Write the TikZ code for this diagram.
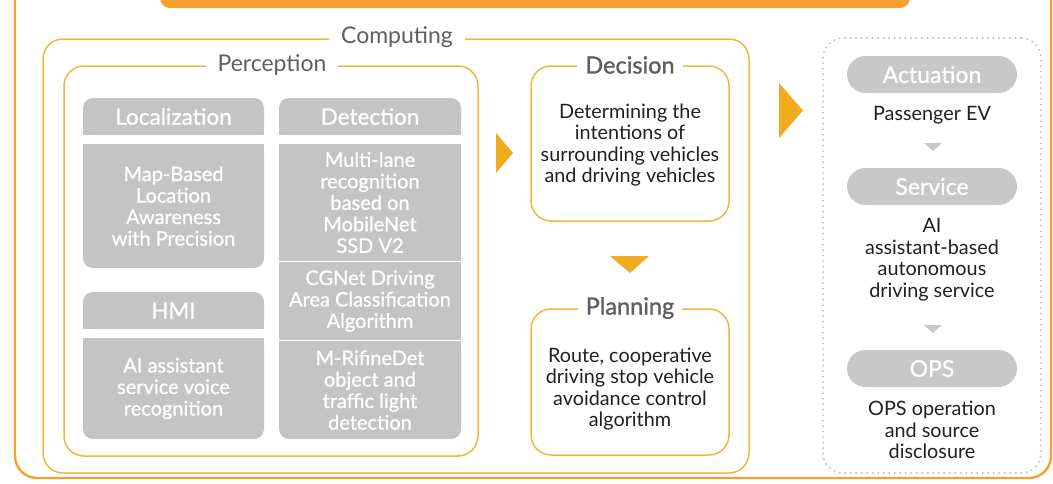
\documentclass[tikz,border=0pt]{standalone}
\usepackage{fontspec}
\setmainfont{Lato}
\newfontfamily\medfont{Lato}[FakeBold=0.7]
\newfontfamily\semifont{Lato}[FakeBold=1.2]
\usetikzlibrary{backgrounds}
\definecolor{gb}{HTML}{C4C4C4}
\definecolor{pillg}{HTML}{C8C8C8}
\definecolor{frameor}{HTML}{F6B53A}
\definecolor{outeror}{HTML}{F5A030}
\definecolor{triangor}{HTML}{F0AC1E}
\definecolor{lbl}{HTML}{5F5F5F}
\definecolor{txt}{HTML}{231F20}
\definecolor{dotg}{HTML}{BDBDBD}
\begin{document}
\begin{tikzpicture}[x=1pt,y=-1pt,
  frame/.style={draw=frameor, line width=1.5pt, rounded corners=20pt, inner sep=0pt},
  flabel/.style={fill=white, text=lbl, inner xsep=12pt, inner ysep=1pt, font=\fontsize{23}{26}\selectfont},
  flabelb/.style={flabel, font=\fontsize{23.5}{26}\semifont, inner xsep=8pt},
  hdr/.style={fill=gb, rounded corners=10pt, text=white, inner sep=0pt, font=\fontsize{22.5}{26}\medfont},
  gbody/.style={fill=gb, text=white, align=center, inner sep=0pt, font=\fontsize{20}{21.5}\medfont},
  btext/.style={text=txt, align=center, inner sep=0pt, font=\fontsize{19.8}{21.5}\selectfont},
  pill/.style={fill=pillg, rounded corners=18.5pt, text=white, inner sep=0pt, minimum width=170pt, minimum height=37pt, font=\fontsize{23}{26}\medfont},
  tri/.style={fill=triangor},
  gtri/.style={fill=pillg}
]
\useasboundingbox (0,0) rectangle (1053,483);
% outer frame and top bar
\node[draw=outeror, line width=2.4pt, rounded corners=22pt, minimum width=1036pt, minimum height=507pt, inner sep=0pt] (outer) at (533,224.5) {};
\node[fill=outeror, rounded corners=10pt, minimum width=750pt, minimum height=38pt, inner sep=0pt] (topbar) at (535,-11) {};

% Computing
\node[frame, minimum width=706pt, minimum height=434pt] (comp) at (396,256) {};
\node[flabel] (compl) at (397,37) {Computing};
% Perception
\node[frame, minimum width=414pt, minimum height=390pt] (perc) at (271,261) {};
\node[flabel] (percl) at (272,65) {Perception};

% Localization
\node[hdr, minimum width=181pt, minimum height=37pt] (loch) at (173.5,116.5) {Localization};
\node[gbody, rounded corners=10pt, minimum width=181pt, minimum height=124pt] (locb) at (173.5,206) {Map-Based\\Location\\Awareness\\with Precision};
% HMI
\node[hdr, minimum width=181pt, minimum height=37pt] (hmih) at (173.5,310.5) {HMI};
\node[gbody, rounded corners=10pt, minimum width=181pt, minimum height=101pt] (hmib) at (173.5,388.5) {AI assistant\\service voice\\recognition};
% Detection
\node[hdr, minimum width=182pt, minimum height=37pt] (deth) at (370,116.5) {Detection};
\node[gbody, minimum width=182pt, minimum height=117pt] (det1) at (370,202.5) {Multi-lane\\recognition\\based on\\MobileNet\\SSD V2};
\node[gbody, minimum width=182pt, minimum height=78pt] (det2) at (370,301) {CGNet Driving\\Area Classification\\Algorithm};
\node[gbody, rounded corners=10pt, minimum width=182pt, minimum height=98pt] (det3) at (370,390) {M-RifineDet\\object and\\traffic light\\detection};

\begin{scope}[on background layer]
  \fill[gb] (loch.west) rectangle (loch.south east);
  \fill[gb] (hmih.west) rectangle (hmih.south east);
  \fill[gb] (deth.west) rectangle (deth.south east);
  \fill[gb] (locb.north west) rectangle (locb.east);
  \fill[gb] (hmib.north west) rectangle (hmib.east);
  \fill[gb] (det3.north west) rectangle (det3.east);
\end{scope}

% Decision
\node[frame, minimum width=198pt, minimum height=155pt] (dec) at (630,143.5) {};
\node[flabelb] (decl) at (630,65) {Decision};
\node[btext] (dect) at (630,145) {Determining the\\intentions of\\surrounding vehicles\\and driving vehicles};
% Planning
\node[frame, minimum width=198pt, minimum height=146pt] (plan) at (630,382) {};
\node[flabelb] (planl) at (630,308) {Planning};
\node[btext] (plant) at (630,389) {Route, cooperative\\driving stop vehicle\\avoidance control\\algorithm};

% triangles
\fill[tri] (496,133) -- (513,153) -- (496,173) -- cycle;
\fill[tri] (610,256) -- (649,256) -- (630,273) -- cycle;
\fill[tri] (779,83) -- (803,110.5) -- (779,138) -- cycle;

% right column
\node[draw=dotg, line width=2.2pt, dash pattern=on 0pt off 5.5pt, line cap=round, rounded corners=20pt, minimum width=218pt, minimum height=435pt, inner sep=0pt] (ops box) at (932,255.5) {};
\node[pill] (act) at (932,74.5) {Actuation};
\node[btext] (actt) at (932,115) {Passenger EV};
\node[pill] (serv) at (932,186.5) {Service};
\node[btext] (servt) at (932,259.5) {AI\\assistant-based\\autonomous\\driving service};
\node[pill] (ops) at (932,368.5) {OPS};
\node[btext] (opst) at (932,430) {OPS operation\\and source\\disclosure};
\fill[gtri] (924,143) -- (942,143) -- (933,151) -- cycle;
\fill[gtri] (924,325) -- (942,325) -- (933,333) -- cycle;
\end{tikzpicture}
\end{document}
